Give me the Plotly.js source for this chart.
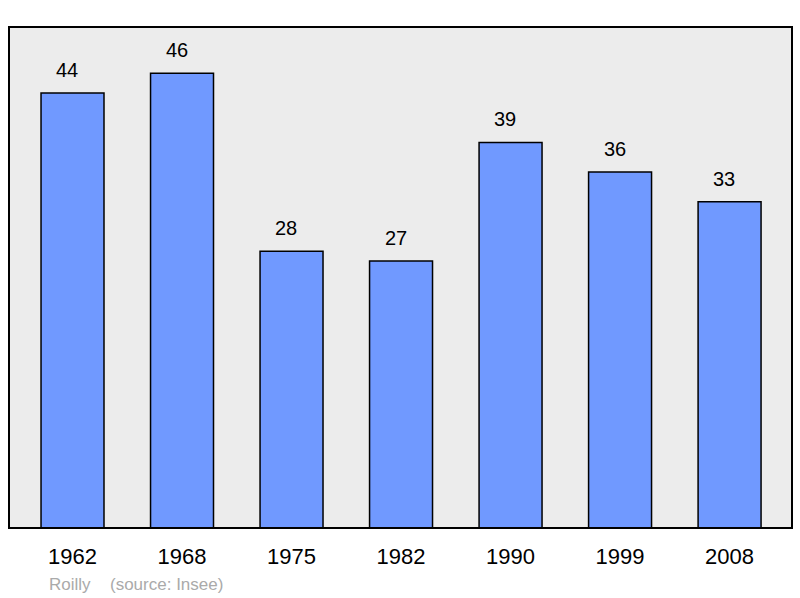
<!DOCTYPE html>
<html>
<head>
<meta charset="utf-8">
<script src="https://cdn.plot.ly/plotly-3.0.1.min.js"></script>
<style>html,body{margin:0;padding:0;background:#fff}#c{width:800px;height:598px}</style>
</head>
<body>
<div id="c"></div>
<script>
const years = ["1962", "1968", "1975", "1982", "1990", "1999", "2008"];
const population = [44, 46, 28, 27, 39, 36, 33];
const footerPlace = "Roilly";
const footerSource = "(source: Insee)";

const FONT = "Liberation Sans, Arial, sans-serif";

const trace = {
  type: "bar",
  x: years,
  y: population,
  width: 0.575,
  marker: {color: "#7099ff", line: {color: "#000", width: 1.5}},
  hoverinfo: "none"
};

const annotations = years.map((yr, i) => ({
  x: i, y: population[i], xref: "x", yref: "y",
  text: String(population[i]), showarrow: false,
  yanchor: "bottom", yshift: 10, xshift: -5.5,
  font: {family: FONT, size: 20, color: "#000"}
}));
annotations.push({
  xref: "paper", yref: "paper", x: 0.048, y: -0.112, xanchor: "left", yanchor: "middle",
  text: footerPlace, showarrow: false,
  font: {family: FONT, size: 17, color: "#aaaaaa"}
});
annotations.push({
  xref: "paper", yref: "paper", x: 0.1265, y: -0.112, xanchor: "left", yanchor: "middle",
  text: footerSource, showarrow: false,
  font: {family: FONT, size: 17, color: "#aaaaaa"}
});

const layout = {
  width: 800, height: 598,
  margin: {l: 9, r: 8, t: 27, b: 70, pad: 0},
  paper_bgcolor: "#ffffff",
  plot_bgcolor: "#ececec",
  showlegend: false,
  xaxis: {
    type: "category",
    range: [-0.58, 6.57],
    showgrid: false, zeroline: false, showline: false,
    ticks: "outside", ticklen: 9, tickcolor: "rgba(0,0,0,0)",
    tickfont: {family: FONT, size: 22, color: "#000"}
  },
  yaxis: {
    range: [0, 50.68],
    showgrid: false, zeroline: false, showline: false, showticklabels: false, ticks: ""
  },
  shapes: [{
    type: "rect", xref: "paper", yref: "paper", x0: 0, x1: 1, y0: 0, y1: 1,
    line: {color: "#000", width: 2}, fillcolor: "rgba(0,0,0,0)", layer: "above"
  }],
  annotations: annotations
};

Plotly.newPlot("c", [trace], layout, {staticPlot: true, displayModeBar: false});
</script>
</body>
</html>
